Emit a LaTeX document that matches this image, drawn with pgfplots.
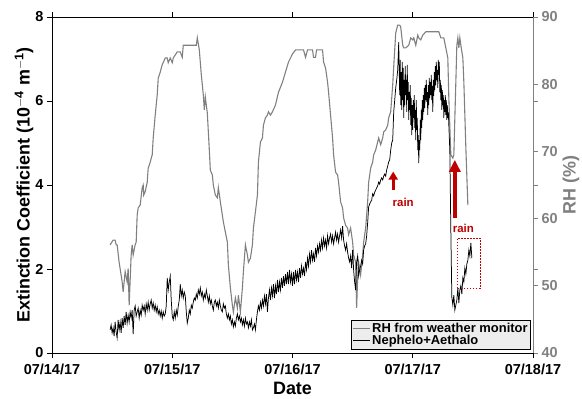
\documentclass[border=0pt]{standalone}
\usepackage{fontspec}
\setmainfont{Liberation Sans}
\usepackage{pgfplots}
\pgfplotsset{compat=1.18}
\usetikzlibrary{arrows.meta}
\definecolor{rhgray}{RGB}{128,128,128}
\definecolor{rainred}{RGB}{192,0,0}
\begin{document}
\begin{tikzpicture}
\begin{axis}[
  scale only axis, width=481bp, height=336bp,
  at={(0,0)}, anchor=south west,
  xmin=0, xmax=96, ymin=40, ymax=90,
  axis x line=none, axis y line*=right,
  ytick={40,50,...,90},
  extra y ticks={52.5,65,77.5}, extra y tick labels={},
  extra y tick style={major tick style={black, line width=0.8pt}},
  y axis line style={rhgray, line width=1pt},
  ytick style={rhgray, line width=1pt},
  tick align=outside, major tick length=5bp,
  /pgf/number format/assume math mode=true,
  yticklabel style={font=\fontsize{14.5}{16}\selectfont\bfseries, text=rhgray},
  ylabel={RH (\%)},
  ylabel style={font=\fontsize{18}{20}\selectfont\bfseries, text=rhgray, at={(axis description cs:1.079,0.5)}, anchor=center},
]
\addplot[rhgray, line width=1.1pt] table[row sep=\\] {
x y\\
11.6 56.1\\ 12.2 56.8\\ 12.6 56.8\\ 12.8 56.1\\ 13.0 56.1\\ 13.4 53.5\\ 14.0 50.6\\ 14.2 49.1\\ 14.6 52.1\\ 15.0 50.6\\
15.2 52.6\\ 15.4 47.1\\ 15.8 54.6\\ 16.0 56.1\\ 16.2 54.6\\ 16.6 56.1\\ 16.8 56.5\\ 17.0 60.5\\ 17.2 61.6\\ 17.6 62.0\\
18.0 64.6\\ 18.2 65.0\\ 18.3 63.5\\ 18.6 64.0\\ 19.0 65.4\\ 19.2 67.5\\ 19.6 68.4\\ 20.0 69.5\\ 20.2 72.0\\ 20.6 75.4\\
21.0 78.4\\ 21.2 80.9\\ 21.6 81.8\\ 22.0 82.9\\ 22.6 83.9\\ 23.0 83.9\\ 23.2 83.2\\ 23.6 83.9\\ 24.0 83.2\\ 24.2 83.9\\
25.0 84.8\\ 25.6 84.8\\ 26.0 84.0\\ 26.2 85.8\\ 28.8 85.8\\ 29.0 86.9\\ 29.4 85.1\\ 29.8 81.4\\ 30.2 78.4\\ 30.4 76.2\\
30.6 78.1\\ 31.0 75.7\\ 31.4 70.2\\ 31.6 67.2\\ 32.0 66.5\\ 32.2 65.0\\ 32.6 63.5\\ 33.0 63.1\\ 33.2 64.6\\ 33.6 62.5\\
34.2 59.5\\ 35.0 56.5\\ 35.2 53.1\\ 35.6 49.7\\ 36.0 47.1\\ 36.2 46.1\\ 36.6 48.2\\ 37.0 46.7\\ 37.2 48.6\\ 37.6 46.1\\
38.0 49.7\\ 38.2 52.1\\ 38.6 56.1\\ 39.0 54.6\\ 39.2 53.5\\ 39.6 54.1\\ 40.0 56.1\\ 40.2 58.6\\ 40.6 61.0\\ 41.0 63.5\\
41.2 68.4\\ 41.6 71.4\\ 42.0 72.0\\ 42.2 73.9\\ 42.6 75.0\\ 43.0 75.4\\ 43.2 75.9\\ 43.6 75.4\\ 44.0 75.9\\ 44.6 76.9\\
45.2 78.8\\ 46.0 80.3\\ 46.6 81.8\\ 47.2 83.3\\ 48.0 84.5\\ 48.6 85.1\\ 50.2 85.1\\ 50.6 84.0\\ 51.0 85.1\\ 52.0 85.1\\
52.2 84.0\\ 52.6 84.0\\ 52.8 85.1\\ 54.0 85.1\\ 54.2 83.3\\ 54.6 82.4\\ 55.0 80.3\\ 55.2 78.8\\ 55.6 75.4\\ 56.0 72.0\\
56.2 69.5\\ 56.6 66.9\\ 57.0 66.5\\ 57.2 65.4\\ 57.6 62.5\\ 58.0 61.6\\ 58.2 60.1\\ 58.6 59.0\\ 59.0 58.6\\ 59.2 57.6\\
59.6 58.6\\ 60.0 56.5\\ 60.2 54.6\\ 60.6 53.5\\ 60.8 46.7\\ 61.0 51.2\\ 61.2 53.5\\ 61.6 51.6\\ 62.0 54.6\\ 62.2 56.5\\
62.6 58.6\\ 63.0 62.5\\ 63.2 65.4\\ 63.6 67.5\\ 64.0 68.4\\ 64.2 69.5\\ 64.6 70.2\\ 65.0 71.4\\ 65.2 72.0\\ 65.6 71.0\\
66.0 72.0\\ 66.2 72.9\\ 66.6 73.2\\ 67.0 73.9\\ 67.2 75.0\\ 67.6 75.9\\ 68.0 79.9\\ 68.2 82.6\\ 68.6 87.6\\ 69.0 88.8\\
69.4 88.8\\ 69.6 88.5\\ 70.0 85.8\\ 70.2 85.4\\ 70.6 85.4\\ 71.2 85.8\\ 71.6 86.9\\ 72.0 86.6\\ 72.2 86.9\\ 72.6 85.8\\
73.0 87.3\\ 73.2 86.9\\ 73.6 86.6\\ 74.0 87.3\\ 74.6 87.8\\ 77.2 87.8\\ 77.6 86.9\\ 78.2 86.9\\ 78.6 85.4\\ 79.0 83.9\\
79.2 78.0\\ 79.6 69.5\\ 80.0 69.0\\ 80.2 69.5\\ 80.6 80.3\\ 80.8 85.8\\ 81.0 86.9\\ 81.2 85.4\\ 81.4 86.9\\ 81.6 85.8\\
82.0 83.9\\ 82.2 80.3\\ 82.6 70.5\\ 83.0 62.0\\
};
\end{axis}
\begin{axis}[
  scale only axis, width=481bp, height=336bp,
  at={(0,0)}, anchor=south west,
  xmin=0, xmax=96, ymin=0, ymax=8,
  axis x line*=box, axis y line*=left,
  axis line style={black, line width=1pt},
  tick style={black, line width=1pt},
  tick align=outside, major tick length=5bp,
  xtick={0,24,48,72,96},
  xticklabels={07/14/17,07/15/17,07/16/17,07/17/17,07/18/17},
  ytick={0,2,...,8},
  /pgf/number format/assume math mode=true,
  ticklabel style={font=\fontsize{14.5}{16}\selectfont\bfseries},
  xticklabel style={yshift=-3bp},
  xlabel={Date},
  xlabel style={font=\fontsize{18}{20}\selectfont\bfseries, at={(rel axis cs:0.5,0)}, anchor=base, yshift=-41bp},
  ylabel={Extinction Coefficient (10$^{\mathbf{-4}}$ m$^{\mathbf{-1}}$)},
  ylabel style={font=\fontsize{18}{20}\selectfont\bfseries, at={(axis description cs:-0.058,0.5)}, anchor=center},
  legend style={at={(rel axis cs:0.996,0.01)}, anchor=south east, fill=black!7, draw=black, line width=0.9pt,
    font=\fontsize{13}{15}\selectfont\bfseries, inner sep=1.5pt, row sep=-1.5pt, nodes={inner sep=1.5pt}},
  legend cell align=left,
]
\addlegendimage{rhgray, line width=1.1pt}
\addlegendentry{RH from weather monitor}
\addplot[black, line width=0.75pt] table[row sep=\\] {
x y\\
11.6 0.55\\ 11.8 0.67\\ 12.0 0.48\\ 12.2 0.60\\ 12.4 0.40\\ 12.6 0.74\\ 12.8 0.50\\ 13.0 0.36\\ 13.2 0.79\\ 13.4 0.55\\
13.6 0.74\\ 13.8 0.48\\ 14.0 0.83\\ 14.2 0.60\\ 14.4 0.88\\ 14.6 0.67\\ 14.8 0.98\\ 15.0 0.71\\ 15.2 0.90\\ 15.4 0.74\\
15.6 0.98\\ 15.8 0.83\\ 16.0 1.02\\ 16.2 0.45\\ 16.4 1.02\\ 16.6 1.12\\ 16.8 0.88\\ 17.0 0.98\\ 17.2 1.07\\ 17.4 0.83\\
17.6 1.02\\ 17.8 0.90\\ 18.0 1.14\\ 18.2 1.02\\ 18.4 1.12\\ 18.6 0.93\\ 18.8 1.17\\ 19.0 1.02\\ 19.2 1.21\\ 19.4 1.02\\
19.6 1.17\\ 19.8 1.26\\ 20.0 1.07\\ 20.2 1.19\\ 20.4 1.02\\ 20.6 1.14\\ 20.8 0.98\\ 21.0 1.10\\ 21.2 0.93\\ 21.4 1.02\\
21.6 0.88\\ 21.8 1.00\\ 22.0 0.83\\ 22.2 0.98\\ 22.4 0.88\\ 22.6 0.93\\ 22.8 1.12\\ 23.0 1.79\\ 23.2 1.50\\ 23.4 1.69\\
23.6 1.83\\ 23.8 1.26\\ 24.0 0.88\\ 24.2 0.79\\ 24.4 0.98\\ 24.6 0.83\\ 24.8 1.02\\ 25.0 0.90\\ 25.2 1.12\\ 25.4 1.26\\
25.6 1.64\\ 25.8 1.36\\ 26.0 1.50\\ 26.2 1.31\\ 26.4 1.45\\ 26.6 1.36\\ 26.8 0.98\\ 27.0 0.71\\ 27.2 0.83\\ 27.4 1.02\\
27.6 0.93\\ 27.8 1.14\\ 28.0 1.07\\ 28.2 1.21\\ 28.4 1.31\\ 28.6 1.26\\ 28.8 1.40\\ 29.0 1.31\\ 29.2 1.50\\ 29.4 1.40\\
29.6 1.55\\ 29.8 1.36\\ 30.0 1.45\\ 30.2 1.26\\ 30.4 1.40\\ 30.6 1.31\\ 30.8 1.50\\ 31.0 1.36\\ 31.2 1.21\\ 31.4 1.36\\
31.6 1.17\\ 31.8 1.26\\ 32.0 1.12\\ 32.2 1.02\\ 32.4 1.21\\ 32.6 1.26\\ 32.8 1.12\\ 33.0 1.21\\ 33.2 1.07\\ 33.4 1.26\\
33.6 1.12\\ 33.8 1.02\\ 34.0 0.98\\ 34.2 1.17\\ 34.4 1.07\\ 34.6 1.12\\ 34.8 0.93\\ 35.0 0.83\\ 35.2 0.93\\ 35.4 0.79\\
35.6 0.88\\ 35.8 0.69\\ 36.0 0.79\\ 36.2 0.62\\ 36.4 0.74\\ 36.6 0.64\\ 36.8 0.83\\ 37.0 0.93\\ 37.2 0.79\\ 37.4 0.88\\
37.6 0.74\\ 37.8 0.83\\ 38.0 0.67\\ 38.2 0.79\\ 38.4 0.64\\ 38.6 0.83\\ 38.8 0.69\\ 39.0 0.74\\ 39.2 0.60\\ 39.4 0.74\\
39.6 0.64\\ 39.8 0.79\\ 40.0 0.55\\ 40.2 0.60\\ 40.4 0.69\\ 40.6 0.55\\ 40.8 0.79\\ 41.0 0.98\\ 41.2 1.12\\ 41.4 1.02\\
41.6 1.21\\ 41.8 1.07\\ 42.0 1.26\\ 42.2 1.12\\ 42.4 1.36\\ 42.6 1.17\\ 42.8 1.40\\ 43.0 0.98\\ 43.2 1.31\\ 43.4 1.50\\
43.6 1.26\\ 43.8 1.55\\ 44.0 1.36\\ 44.2 1.64\\ 44.4 1.31\\ 44.6 1.60\\ 44.8 1.40\\ 45.0 1.74\\ 45.2 1.45\\ 45.4 1.69\\
45.6 1.50\\ 45.8 1.79\\ 46.0 1.55\\ 46.2 1.83\\ 46.4 1.60\\ 46.6 1.88\\ 46.8 1.64\\ 47.0 1.93\\ 47.2 1.64\\ 47.4 1.98\\
47.6 1.69\\ 47.8 1.88\\ 48.0 1.60\\ 48.2 1.93\\ 48.4 1.64\\ 48.6 1.98\\ 48.8 1.74\\ 49.0 1.93\\ 49.2 1.69\\ 49.4 2.02\\
49.6 1.79\\ 49.8 2.07\\ 50.0 1.88\\ 50.2 2.02\\ 50.4 1.83\\ 50.6 2.17\\ 50.8 1.98\\ 51.0 2.26\\ 51.2 2.07\\ 51.4 2.36\\
51.6 2.17\\ 51.8 2.45\\ 52.0 2.21\\ 52.2 2.36\\ 52.4 2.17\\ 52.6 2.50\\ 52.8 2.31\\ 53.0 2.55\\ 53.2 2.40\\ 53.4 2.60\\
53.6 2.45\\ 53.8 2.69\\ 54.0 2.50\\ 54.2 2.74\\ 54.4 2.55\\ 54.6 2.69\\ 54.8 2.50\\ 55.0 2.79\\ 55.2 2.60\\ 55.4 2.74\\
55.6 2.83\\ 55.8 2.64\\ 56.0 2.79\\ 56.2 2.60\\ 56.4 2.74\\ 56.6 2.88\\ 56.8 2.69\\ 57.0 2.83\\ 57.2 2.64\\ 57.4 2.79\\
57.6 2.93\\ 57.8 2.74\\ 58.0 3.02\\ 58.2 2.69\\ 58.4 2.55\\ 58.6 2.45\\ 58.8 2.60\\ 59.0 2.40\\ 59.2 2.26\\ 59.4 2.17\\
59.6 2.31\\ 59.8 2.02\\ 60.0 2.45\\ 60.2 1.98\\ 60.4 1.69\\ 60.6 1.50\\ 60.8 2.17\\ 61.0 2.31\\ 61.2 1.83\\ 61.4 1.98\\
61.6 2.07\\ 61.8 2.21\\ 62.0 2.12\\ 62.2 2.45\\ 62.4 2.55\\ 62.6 2.60\\ 62.8 2.79\\ 63.0 3.10\\ 63.2 3.48\\ 63.4 3.55\\
63.6 3.60\\ 63.8 3.64\\ 64.0 3.79\\ 64.2 3.74\\ 64.4 3.83\\ 64.6 3.88\\ 64.8 3.93\\ 65.0 3.98\\ 65.2 4.07\\ 65.4 4.02\\
65.6 4.12\\ 65.8 4.17\\ 66.0 4.12\\ 66.2 4.21\\ 66.4 4.26\\ 66.6 4.21\\ 66.8 4.36\\ 67.0 4.45\\ 67.2 4.55\\ 67.4 4.60\\
67.6 4.83\\ 67.8 5.00\\ 68.0 5.07\\ 68.2 5.74\\ 68.4 6.02\\ 68.6 6.31\\ 68.8 6.50\\ 69.0 6.74\\ 69.2 7.40\\ 69.3 6.74\\
69.4 6.14\\ 69.5 6.98\\ 69.6 5.90\\ 69.7 6.69\\ 69.8 5.79\\ 69.9 6.93\\ 70.0 6.02\\ 70.1 6.79\\ 70.2 5.60\\ 70.3 6.50\\
70.4 5.90\\ 70.5 6.83\\ 70.6 6.14\\ 70.7 6.50\\ 70.8 5.74\\ 70.9 6.86\\ 71.0 6.02\\ 71.1 6.45\\ 71.2 5.55\\ 71.3 6.21\\
71.4 5.79\\ 71.5 6.38\\ 71.6 5.43\\ 71.7 6.07\\ 71.8 5.19\\ 71.9 5.90\\ 72.0 5.31\\ 72.1 6.02\\ 72.2 5.60\\ 72.3 6.14\\
72.4 5.36\\ 72.5 5.79\\ 72.6 5.07\\ 72.7 6.02\\ 72.8 5.31\\ 72.9 5.60\\ 73.0 4.83\\ 73.1 5.19\\ 73.2 4.52\\ 73.3 5.07\\
73.4 4.83\\ 73.5 5.55\\ 73.6 5.07\\ 73.7 5.79\\ 73.8 5.36\\ 73.9 6.02\\ 74.0 5.55\\ 74.1 6.14\\ 74.2 5.74\\ 74.3 6.31\\
74.4 5.83\\ 74.5 6.38\\ 74.6 6.02\\ 74.7 6.50\\ 74.8 5.98\\ 74.9 6.21\\ 75.0 5.67\\ 75.1 6.38\\ 75.2 5.90\\ 75.3 6.55\\
75.4 6.07\\ 75.5 6.45\\ 75.6 6.14\\ 75.7 6.62\\ 75.8 6.02\\ 75.9 6.36\\ 76.0 5.74\\ 76.1 6.50\\ 76.2 6.12\\ 76.3 6.69\\
76.4 6.26\\ 76.5 6.83\\ 76.6 6.38\\ 76.7 6.93\\ 76.8 6.50\\ 76.9 6.74\\ 77.0 6.31\\ 77.1 6.98\\ 77.2 6.62\\ 77.3 6.93\\
77.4 6.21\\ 77.5 6.50\\ 77.6 6.02\\ 77.7 6.38\\ 77.8 5.79\\ 77.9 6.26\\ 78.0 5.90\\ 78.1 6.14\\ 78.2 5.60\\ 78.3 6.02\\
78.4 5.74\\ 78.5 6.14\\ 78.6 5.67\\ 78.7 6.02\\ 78.8 5.55\\ 78.9 5.90\\ 79.0 5.60\\ 79.1 5.74\\ 79.2 5.43\\ 79.4 4.83\\
79.6 2.93\\ 79.8 1.33\\ 80.0 1.14\\ 80.2 1.38\\ 80.4 1.02\\ 80.6 1.14\\ 80.8 1.26\\ 81.0 1.55\\ 81.2 1.19\\ 81.4 1.50\\
81.6 1.60\\ 81.8 1.40\\ 82.0 1.79\\ 82.2 1.69\\ 82.4 2.02\\ 82.6 1.88\\ 82.8 2.12\\ 83.0 2.21\\ 83.2 2.45\\ 83.4 2.31\\
83.6 2.62\\ 83.8 2.26\\
};
\addlegendentry{Nephelo+Aethalo}
\draw[rainred, line width=3bp, -{Triangle[width=9bp,length=8bp]}] (axis cs:68.1,3.88) -- (axis cs:68.1,4.32);
\draw[rainred, line width=3.5bp, -{Triangle[width=11bp,length=12bp]}] (axis cs:80.4,3.21) -- (axis cs:80.4,4.60);
\node[rainred, font=\fontsize{11.5}{13}\selectfont\bfseries, anchor=base] at (axis cs:70.1,3.48) {rain};
\node[rainred, font=\fontsize{11.5}{13}\selectfont\bfseries, anchor=base] at (axis cs:82.1,2.86) {rain};
\draw[rainred, line width=1.3bp, dash pattern=on 1.3bp off 1.7bp] (axis cs:80.9,1.54) rectangle (axis cs:85.5,2.73);
\end{axis}
\pgfresetboundingbox
\path[use as bounding box] (-52bp,-46bp) rectangle (530bp,353bp);
\end{tikzpicture}
\end{document}
